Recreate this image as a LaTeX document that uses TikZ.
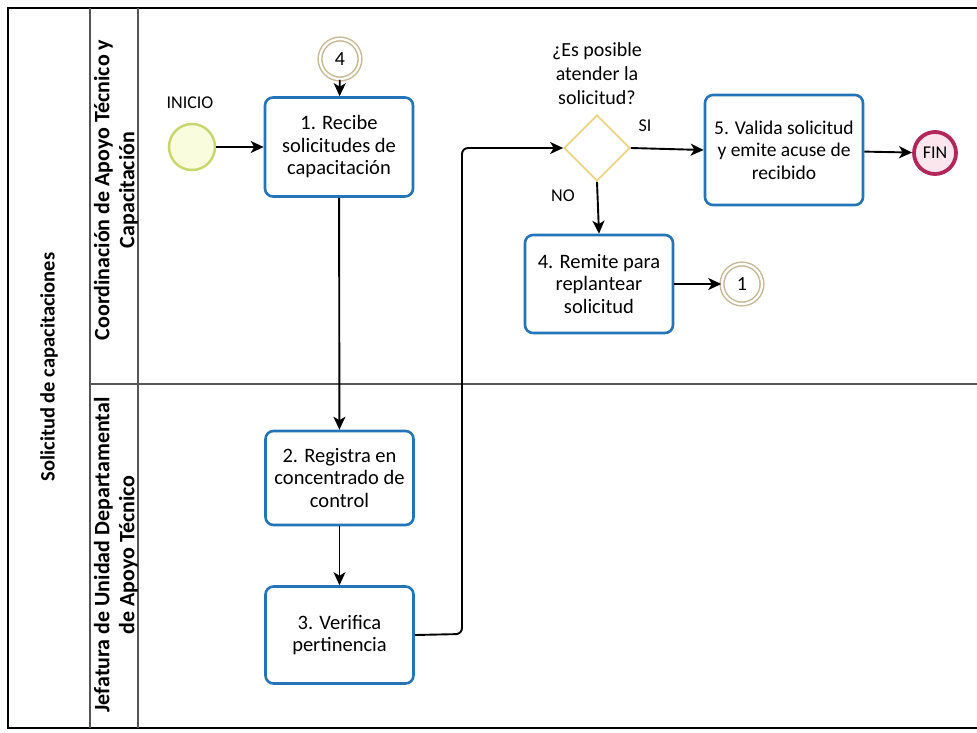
\documentclass[tikz,border=0pt]{standalone}
\usepackage{fontspec}
\setmainfont{Carlito}
\usetikzlibrary{arrows.meta,shapes.geometric}

\definecolor{taskblue}{RGB}{36,116,186}
\definecolor{startline}{RGB}{200,216,110}
\definecolor{startfill}{RGB}{250,252,222}
\definecolor{linkline}{RGB}{200,184,150}
\definecolor{endline}{RGB}{178,38,88}
\definecolor{endfill}{RGB}{252,230,238}
\definecolor{gateline}{RGB}{232,212,130}
\definecolor{laneline}{RGB}{85,85,85}

\tikzset{
  activity/.style={draw=taskblue, line width=2.6pt, rounded corners=8pt, fill=white,
    align=center, minimum width=148pt, minimum height=97pt, inner sep=2pt,
    font=\fontsize{20.5}{22.5}\selectfont},
  startev/.style={circle, draw=startline, fill=startfill, line width=2.5pt,
    minimum size=46pt, inner sep=0pt},
  linkev/.style={circle, draw=linkline, line width=1.5pt, double=white,
    double distance=2.2pt, fill=white, minimum size=40pt, inner sep=0pt,
    font=\fontsize{20}{23}\selectfont},
  endev/.style={circle, draw=endline, fill=endfill, line width=3.8pt,
    minimum size=42pt, inner sep=0pt, font=\fontsize{18}{22}\selectfont},
  gate/.style={diamond, draw=gateline, fill=white, line width=1.7pt,
    minimum size=66pt, inner sep=0pt, aspect=1},
  flow/.style={-{Stealth[length=13pt,width=12pt,inset=3.5pt]}, line width=1.9pt, black},
  lbl/.style={font=\fontsize{18}{22}\selectfont, align=center, inner sep=0pt},
  question/.style={font=\fontsize{20}{24}\selectfont, align=center, inner sep=0pt},
  lanetitle/.style={rotate=90, align=center, inner sep=0pt,
    font=\bfseries\fontsize{22}{25}\selectfont},
  pooltitle/.style={rotate=90, inner sep=0pt, font=\bfseries\fontsize{20.5}{24}\selectfont},
}

\begin{document}
\begin{tikzpicture}[x=1pt,y=-1pt]
  \useasboundingbox (0,0) rectangle (977,732);

  % pool frame, header columns and lane divider
  \draw[line width=1.6pt, black] (977,8) -- (8,8) -- (8,728) -- (977,728);
  \draw[line width=1.6pt, laneline] (90,8) -- (90,728);
  \draw[line width=1.6pt, laneline] (138,8) -- (138,728);
  \draw[line width=1.6pt, laneline] (90,384) -- (977,384);

  % pool and lane titles
  \node[pooltitle] (pool) at (49,367) {Solicitud de capacitaciones};
  \node[lanetitle] (laneA) at (116,190) {Coordinación de Apoyo Técnico y\\Capacitación};
  \node[lanetitle] (laneB) at (116,555) {Jefatura de Unidad Departamental\\de Apoyo Técnico};

  % events
  \node[startev] (inicio) at (192,147) {};
  \node[lbl] (inicioLbl) at (190,103) {INICIO};
  \node[linkev] (link4) at (340,59) {4};
  \node[linkev] (link1) at (742,284) {1};
  \node[endev] (fin) at (935,153) {FIN};

  % activities
  \node[activity, minimum height=99pt] (t1) at (339,147) {1. Recibe\\solicitudes de\\capacitación};
  \node[activity, minimum height=94pt] (t2) at (339.5,478) {2. Registra en\\concentrado de\\control};
  \node[activity] (t3) at (339.5,635) {3. Verifica\\pertinencia};
  \node[activity, minimum height=98pt] (t4) at (599,284) {4. Remite para\\replantear\\solicitud};
  \node[activity, minimum width=158pt, minimum height=110pt,
    font=\fontsize{19.5}{22.5}\selectfont] (t5) at (784,150) {5. Valida solicitud\\y emite acuse de\\recibido};

  % gateway with its question and branch labels
  \node[gate] (gw) at (597,148) {};
  \node[question] (gwLbl) at (597,74) {¿Es posible\\atender la\\solicitud?};
  \node[lbl] (si) at (645,126) {SI};
  \node[lbl] (no) at (563,196) {NO};

  % sequence flows
  \draw[flow] (inicio) -- (t1);
  \draw[flow] (link4) -- (t1);
  \draw[flow] (t1) -- (t2);
  \draw[flow] (t2) -- (t3);
  \draw[flow, rounded corners=6pt] (t3.east) -- (462,634) -- (462,148) -- (gw.west);
  \draw[flow] (gw.east) -- (t5.west);
  \draw[flow] (t5) -- (fin);
  \draw[flow] (gw.south) -- (t4.north);
  \draw[flow] (t4) -- (link1);
\end{tikzpicture}
\end{document}
